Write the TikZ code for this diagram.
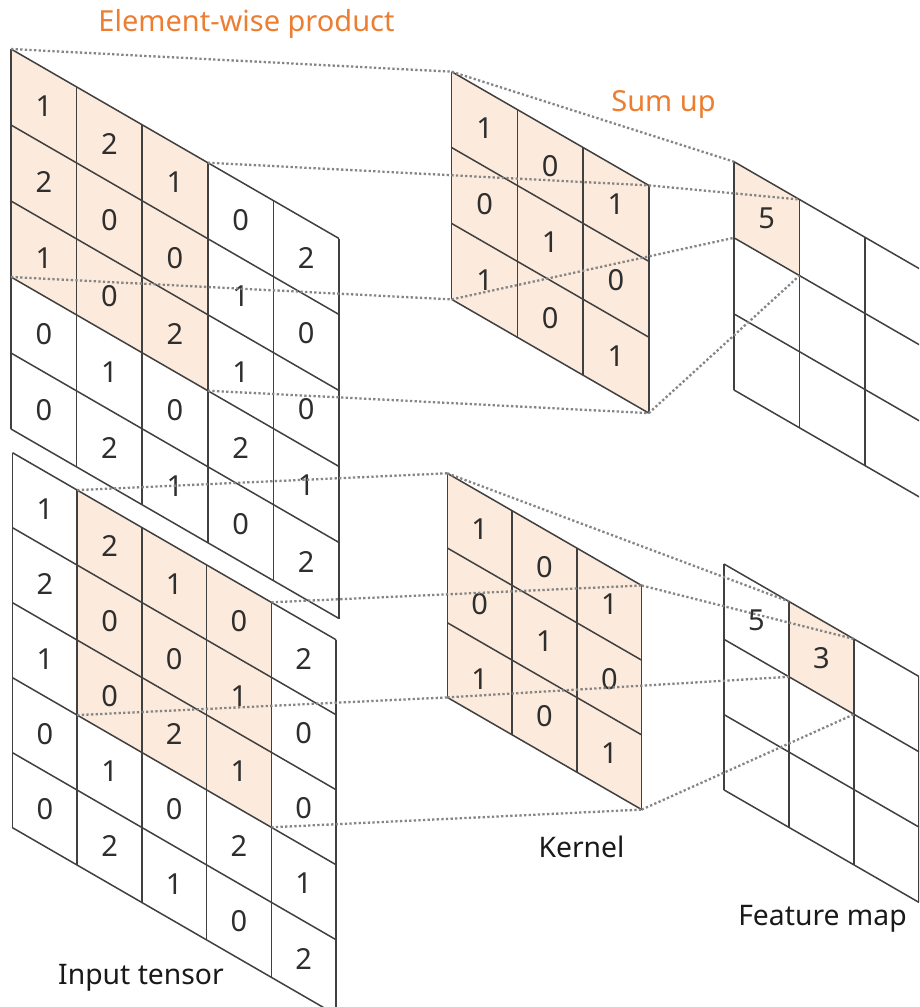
\documentclass[tikz,border=0pt]{standalone}
\usepackage{fontspec}
\setmainfont{Noto Sans}
\usetikzlibrary{calc}

\definecolor{accent}{HTML}{ED7D31}
\definecolor{cellfill}{HTML}{FCEBDC}
\definecolor{gridline}{HTML}{404040}
\definecolor{guide}{HTML}{858585}

% corner coordinates of a slanted grid: name, x0, y0, cell width, cell height, drop per column, columns, rows
\newcommand\planegrid[8]{%
  \foreach \i in {0,...,#7}{%
    \foreach \j in {0,...,#8}{%
      \coordinate (#1-\i-\j) at ({#2+\i*#4},{#3+\i*#6+\j*#5});
    }%
  }%
}
% draw the lines of a grid built by \planegrid: name, columns, rows
\newcommand\gridlines[3]{%
  \foreach \i in {0,...,#2}{\draw[cellline] (#1-\i-0) -- (#1-\i-#3);}%
  \foreach \j in {0,...,#3}{\draw[cellline] (#1-0-\j) -- (#1-#2-\j);}%
}
% shade the cells of columns a..b-1 and rows c..d-1
\newcommand\shadecells[5]{%
  \fill[cellfill] (#1-#2-#4) -- (#1-#3-#4) -- (#1-#3-#5) -- (#1-#2-#5) -- cycle;
}
% one number in the middle of a cell: grid, column, row, value
\newcommand\cellval[4]{%
  \pgfmathtruncatemacro\nci{#2+1}\pgfmathtruncatemacro\ncj{#3+1}%
  \node[digit] (#1-v-#2-#3) at ($(#1-#2-#3)!0.5!(#1-\nci-\ncj)$) {#4};
}
% fill every cell of a grid from a list of rows
\newcommand\gridvalues[2]{%
  \foreach \rowvals [count=\r from 0] in {#2}{%
    \foreach \v [count=\c from 0] in \rowvals {\cellval{#1}{\c}{\r}{\v}}%
  }%
}

\begin{document}
\begin{tikzpicture}[x=1pt,y=-1pt,
  cellline/.style={draw=gridline,line width=1.5pt,line join=miter},
  digit/.style={font=\fontsize{29}{29}\selectfont,text=black!82,inner sep=0pt},
  guideline/.style={draw=guide,line width=2.3pt,dash pattern=on 2.3pt off 2.3pt},
  caption/.style={font=\fontsize{28.3}{28.3}\selectfont,text=black!90,inner sep=0pt,anchor=base},
  heading/.style={caption,font=\fontsize{29}{29}\selectfont,text=accent}]

\fill[white] (0,0) rectangle (919,1007);
\useasboundingbox (0,0) rectangle (919,1007);
\clip (0,0) rectangle (919,1007);

% upper row of planes
\planegrid{T1}{11}{49}{65.6}{76}{37.9}{5}{5}
\planegrid{K1}{451.7}{71.7}{65.7}{75.9}{37.9}{3}{3}
\planegrid{F1}{734}{161.7}{65.5}{76.1}{37.8}{3}{3}
% lower row of planes
\planegrid{T2}{12.5}{452.7}{64.7}{75}{37.4}{5}{5}
\planegrid{K2}{447.3}{473.3}{64.8}{74.7}{37.4}{3}{3}
\planegrid{F2}{724}{564}{65}{75.3}{37.5}{3}{3}

% shaded windows
\shadecells{T1}{0}{3}{0}{3}
\shadecells{K1}{0}{3}{0}{3}
\shadecells{F1}{0}{1}{0}{1}
\shadecells{T2}{1}{4}{0}{3}
\shadecells{K2}{0}{3}{0}{3}
\shadecells{F2}{1}{2}{0}{1}

% grid lines
\gridlines{T1}{5}{5}
\gridlines{K1}{3}{3}
\gridlines{F1}{3}{3}
\gridlines{T2}{5}{5}
\gridlines{K2}{3}{3}
\gridlines{F2}{3}{3}

% cell values
\gridvalues{T1}{{1,2,1,0,2},{2,0,0,1,0},{1,0,2,1,0},{0,1,0,2,1},{0,2,1,0,2}}
\gridvalues{T2}{{1,2,1,0,2},{2,0,0,1,0},{1,0,2,1,0},{0,1,0,2,1},{0,2,1,0,2}}
\gridvalues{K1}{{1,0,1},{0,1,0},{1,0,1}}
\gridvalues{K2}{{1,0,1},{0,1,0},{1,0,1}}
\cellval{F1}{0}{0}{5}
\cellval{F2}{0}{0}{5}
\cellval{F2}{1}{0}{3}

% projection lines: input window -> kernel -> output cell
\draw[guideline] (T1-0-0) -- (K1-0-0);
\draw[guideline] (T1-3-0) -- (K1-3-0);
\draw[guideline] (T1-0-3) -- (K1-0-3);
\draw[guideline] (T1-3-3) -- (K1-3-3);
\draw[guideline] (K1-0-0) -- (F1-0-0);
\draw[guideline] (K1-3-0) -- (F1-1-0);
\draw[guideline] (K1-0-3) -- (F1-0-1);
\draw[guideline] (K1-3-3) -- (F1-1-1);

\draw[guideline] (T2-1-0) -- (K2-0-0);
\draw[guideline] (T2-4-0) -- (K2-3-0);
\draw[guideline] (T2-1-3) -- (K2-0-3);
\draw[guideline] (T2-4-3) -- (K2-3-3);
\draw[guideline] (K2-0-0) -- (F2-1-0);
\draw[guideline] (K2-3-0) -- (F2-2-0);
\draw[guideline] (K2-0-3) -- (F2-1-1);
\draw[guideline] (K2-3-3) -- (F2-2-1);

% captions
\node[heading] (prod) at (246.5,31) {Element-wise product};
\node[heading] (sum) at (663.5,111) {Sum up};
\node[caption] (kcap) at (581.5,857) {Kernel};
\node[caption] (icap) at (141,984) {Input tensor};
\node[caption] (fcap) at (822.5,925) {Feature map};
\end{tikzpicture}
\end{document}
